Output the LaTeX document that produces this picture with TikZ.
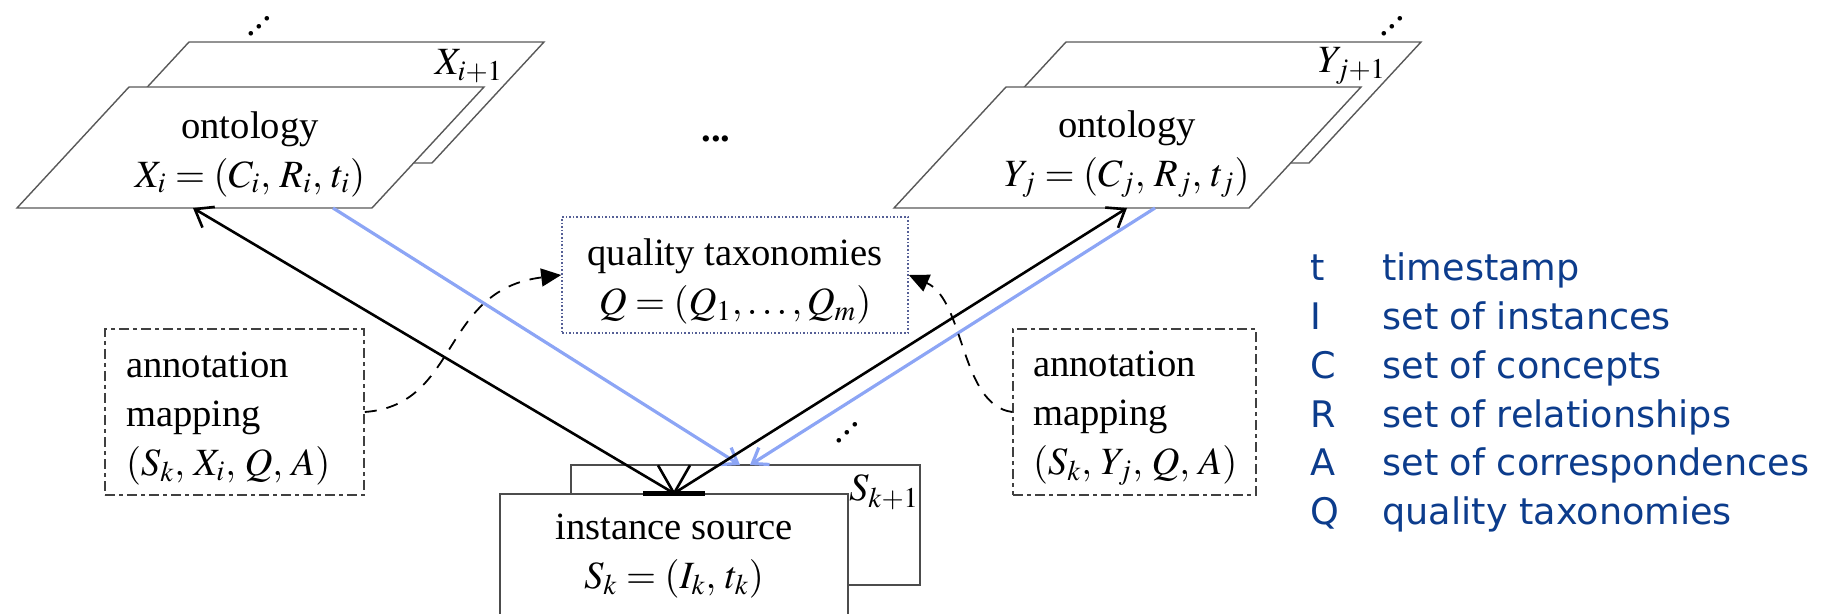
\documentclass[tikz,border=0pt]{standalone}
\usepackage{mathptmx}
\usepackage{fontspec}
\setmainfont{Liberation Serif}
\newfontfamily\legendfont{DejaVu Sans}
\usetikzlibrary{arrows.meta}
\definecolor{legendblue}{RGB}{12,60,140}
\definecolor{linkblue}{RGB}{140,165,245}
\definecolor{dotblue}{RGB}{85,95,150}
\newcommand{\updots}{\mbox{.\kern-0.8pt\raisebox{3.8pt}{.}\kern-0.8pt\raisebox{7.6pt}{.}}}
\tikzset{
  ontbox/.style={draw=black!65, line width=0.7pt, fill=white},
  srcbox/.style={draw=black!70, line width=0.7pt, fill=white, inner sep=0pt},
  txt/.style={font=\fontsize{19.3}{24.5}\selectfont, inner sep=0pt},
  dotbox/.style={txt, draw=dotblue, densely dotted, line width=0.8pt},
  annbox/.style={txt, draw=black!75, line width=0.8pt,
    dash pattern=on 5pt off 2pt on 2pt off 2pt, inner ysep=0pt},
  legend/.style={font=\legendfont\fontsize{18.3}{21}\selectfont, text=legendblue, inner sep=0pt},
  instlink/.style={line width=1.3pt, -{Straight Barb[length=8pt,width=12pt]}},
  maplink/.style={draw=linkblue, line width=1.6pt, -{Straight Barb[length=7pt,width=10pt]}},
  annlink/.style={line width=0.9pt, dash pattern=on 6pt off 5pt, -{Triangle[length=10pt,width=9pt]}}
}
\begin{document}
\begin{tikzpicture}[x=0.5pt, y=-0.5pt]
  \useasboundingbox (0,0) rectangle (1834,614);

  % ontology X_i (X_{i+1} behind)
  \draw[ontbox] (77,163) -- (432,163) -- (544,42) -- (189,42) -- cycle;
  \draw[ontbox] (17,208) -- (372,208) -- (484,87) -- (129,87) -- cycle;
  \node[txt, align=center] (ontX) at (250,154) {ontology\\$X_i = (C_i,\, R_i,\, t_i)$};
  \node[txt] (ontXn) at (469,66) {$X_{i+1}$};
  \node[txt, anchor=base west] (ontXd) at (246,36) {\updots};

  % ontology Y_j (Y_{j+1} behind)
  \draw[ontbox] (954,163) -- (1309,163) -- (1421,42) -- (1066,42) -- cycle;
  \draw[ontbox] (894,208) -- (1249,208) -- (1361,87) -- (1006,87) -- cycle;
  \node[txt, align=center] (ontY) at (1127,154) {ontology\\$Y_j = (C_j,\, R_j,\, t_j)$};
  \node[txt] (ontYn) at (1352,66) {$Y_{j+1}$};
  \node[txt, anchor=base west] (ontYd) at (1379,36) {\updots};

  \node[txt] (more) at (716,139) {\textbf{...}};

  % quality taxonomies
  \node[dotbox, minimum width=173pt, minimum height=58pt, align=center] (qual) at (735,275)
    {\rule{0pt}{20pt}quality taxonomies\\$Q = (Q_1, \dots, Q_m)$};

  % annotation mappings
  \node[annbox, minimum height=83pt, text width=108.5pt, inner xsep=10.5pt, align=left] (annX) at (234.5,412)
    {\rule{0pt}{19pt}annotation\\mapping\\$(S_k,\, X_i,\, Q,\, A)$};
  \node[annbox, minimum height=83pt, text width=101.5pt, inner xsep=10pt, align=left] (annY) at (1134.5,412)
    {\rule{0pt}{19pt}annotation\\mapping\\$(S_k,\, Y_j,\, Q,\, A)$};

  % instance sources
  \node[srcbox, minimum width=174.5pt, minimum height=60pt] (srcKn) at (745.5,525) {};
  \node[srcbox, txt, minimum width=174pt, minimum height=62pt, align=center] (srcK) at (674,556)
    {instance source\\$S_k = (I_k,\, t_k)$};
  \node[txt] (srcKl) at (884,492) {$S_{k+1}$};
  \node[txt, anchor=base west] (srcKd) at (834,442) {\updots};

  % connectors
  \coordinate (ontXin) at (193,208);
  \coordinate (ontXout) at (333,208);
  \coordinate (ontYin) at (1127,208);
  \coordinate (ontYout) at (1155,208);
  \coordinate (srcKa) at (740,465);
  \coordinate (srcKb) at (750,465);

  \draw[maplink] (ontXout) -- (srcKa);
  \draw[maplink] (ontYout) -- (srcKb);
  \draw[instlink] (srcK.north) -- (ontXin);
  \draw[instlink] (srcK.north) -- (ontYin);
  \draw[line width=1.3pt] (srcK.north) -- ++(-16,-28) (srcK.north) -- ++(16,-28);
  \draw[line width=2.4pt] ([xshift=-15.5pt]srcK.north) -- ([xshift=15.5pt]srcK.north);

  \draw[annlink] (annX.east) .. controls (460,405) and (440,290) .. (qual.west);
  \draw[annlink] (annY.west) .. controls (960,405) and (965,300) .. (qual.east);

  % legend
  \foreach \sym/\desc [count=\k from 0] in {t/timestamp, I/set of instances, C/set of concepts,
      R/set of relationships, A/set of correspondences, Q/quality taxonomies} {
    \node[legend, anchor=base west] (sym\k) at (1310, 281+48.7*\k) {\sym};
    \node[legend, anchor=base west] (desc\k) at (1382, 281+48.7*\k) {\desc};
  }
\end{tikzpicture}
\end{document}
